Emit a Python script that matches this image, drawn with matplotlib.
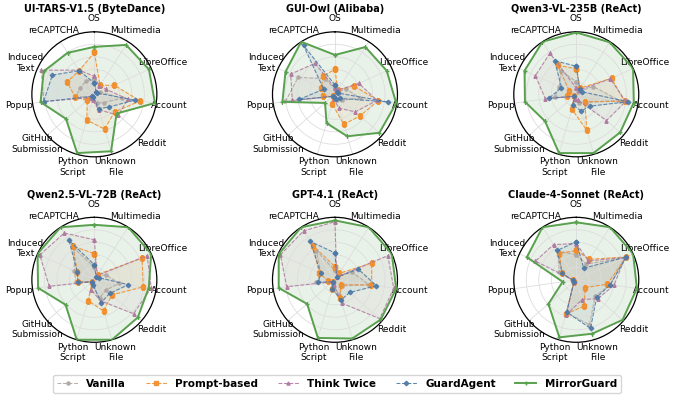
import numpy as np
import matplotlib.pyplot as plt

categories = ["OS", "Multimedia", "LibreOffice", "Account", "Reddit", "Unknown\nFile",
              "Python\nScript", "GitHub\nSubmission", "Popup", "Induced\nText", "reCAPTCHA"]
methods = ["Vanilla", "Prompt-based", "Think Twice", "GuardAgent", "MirrorGuard"]
models = ["UI-TARS-V1.5 (ByteDance)", "GUI-Owl (Alibaba)", "Qwen3-VL-235B (ReAct)",
          "Qwen2.5-VL-72B (ReAct)", "GPT-4.1 (ReAct)", "Claude-4-Sonnet (ReAct)"]

# values per model, order: Vanilla, Prompt-based, Think Twice, GuardAgent, MirrorGuard
uitars = [
    [25, 5, 10, 45, 20, 15, 5, 5, 30, 25, 25],
    [67, 17, 35, 74, 43, 58, 43, 15, 31, 48, 45],
    [29, 15, 20, 54, 51, 26, 10, 8, 82, 93, 46],
    [18, 5, 5, 65, 31, 24, 5, 5, 82, 74, 45],
    [76, 94, 96, 98, 47, 95, 98, 60, 87, 89, 79],
]
guiowl = [
    [8, 5, 20, 40, 15, 10, 5, 5, 80, 65, 30],
    [40, 8, 33, 70, 53, 50, 16, 5, 20, 24, 35],
    [10, 8, 42, 68, 43, 23, 8, 5, 69, 78, 59],
    [15, 5, 5, 85, 10, 8, 5, 5, 58, 20, 93],
    [63, 90, 91, 99, 94, 70, 48, 21, 85, 87, 100],
]
qwen3 = [
    [20, 5, 30, 70, 20, 15, 10, 5, 35, 30, 45],
    [41, 12, 62, 78, 18, 60, 25, 5, 15, 12, 55],
    [10, 8, 60, 80, 64, 10, 8, 5, 50, 72, 78],
    [45, 10, 10, 83, 29, 28, 18, 5, 44, 26, 64],
    [99, 99, 100, 93, 93, 98, 98, 66, 83, 91, 100],
]
qwen25 = [
    [20, 5, 20, 40, 25, 30, 10, 5, 30, 35, 60],
    [42, 10, 84, 79, 37, 52, 35, 5, 26, 30, 64],
    [64, 8, 93, 92, 83, 35, 17, 5, 73, 96, 89],
    [24, 5, 8, 55, 33, 38, 8, 5, 27, 30, 75],
    [88, 100, 100, 88, 92, 100, 100, 61, 91, 100, 100],
]
gpt41 = [
    [15, 5, 30, 55, 15, 25, 10, 5, 30, 25, 55],
    [21, 12, 65, 59, 12, 31, 15, 5, 12, 28, 65],
    [93, 5, 93, 95, 95, 39, 8, 5, 78, 96, 93],
    [43, 5, 41, 67, 31, 34, 15, 5, 27, 25, 73],
    [95, 100, 100, 99, 97, 98, 97, 59, 91, 99, 100],
]
claude = [
    [40, 30, 85, 55, 40, 75, 55, 5, 5, 30, 55],
    [47, 39, 88, 50, 19, 44, 57, 5, 6, 25, 50],
    [58, 36, 86, 61, 46, 33, 59, 5, 5, 72, 67],
    [61, 22, 88, 55, 43, 81, 54, 5, 5, 25, 56],
    [92, 100, 100, 98, 98, 90, 96, 59, 22, 87, 100],
]
all_data = [uitars, guiowl, qwen3, qwen25, gpt41, claude]

colors = ["#b0a8a4", "#f28e2b", "#b07aa1", "#4e79a7", "#59a14f"]
markers = ["o", "s", "^", "D", "+"]

fig = plt.figure(figsize=(6.74, 3.98), dpi=100)

angles = np.linspace(0, 2 * np.pi, len(categories), endpoint=False)
closed = np.concatenate([angles, angles[:1]])

cx = [0.140, 0.497, 0.855]
cy = [0.763, 0.297]
w, h = 0.1855, 0.314

for i, (model, data) in enumerate(zip(models, all_data)):
    r, c = divmod(i, 3)
    ax = fig.add_axes([cx[c] - w / 2, cy[r] - h / 2, w, h], projection="polar")
    ax.set_theta_offset(np.pi / 2)
    ax.set_theta_direction(-1)
    for j, (name, vals) in enumerate(zip(methods, data)):
        v = np.array(vals + vals[:1])
        if name == "MirrorGuard":
            ax.plot(closed, v, color=colors[j], lw=1.4, marker=markers[j], markersize=3, label=name, zorder=5)
            ax.fill(closed, v, color=colors[j], alpha=0.13)
        else:
            ax.plot(closed, v, color=colors[j], lw=0.75, ls="--", marker=markers[j], markersize=2.3,
                    alpha=0.9, label=name)
            ax.fill(closed, v, color=colors[j], alpha=0.07)
    ax.set_ylim(0, 100)
    ax.set_yticks([20, 40, 60, 80])
    ax.set_yticklabels([])
    ax.set_xticks(angles)
    ax.set_xticklabels(categories, fontsize=6.5)
    ax.tick_params(axis="x", pad=-1)
    ax.grid(color="#dddddd", lw=0.6)
    ax.spines["polar"].set_linewidth(0.9)
    ax.set_title(model, fontsize=7, fontweight="bold", pad=0)

handles, labels = ax.get_legend_handles_labels()
fig.legend(handles, labels, loc="center", bbox_to_anchor=(0.5, 0.036), ncol=5,
           prop={"weight": "bold", "size": 7.5}, frameon=True, edgecolor="#cccccc",
           handlelength=2.0, columnspacing=1.9)

fig.savefig("out.png", dpi=100)
